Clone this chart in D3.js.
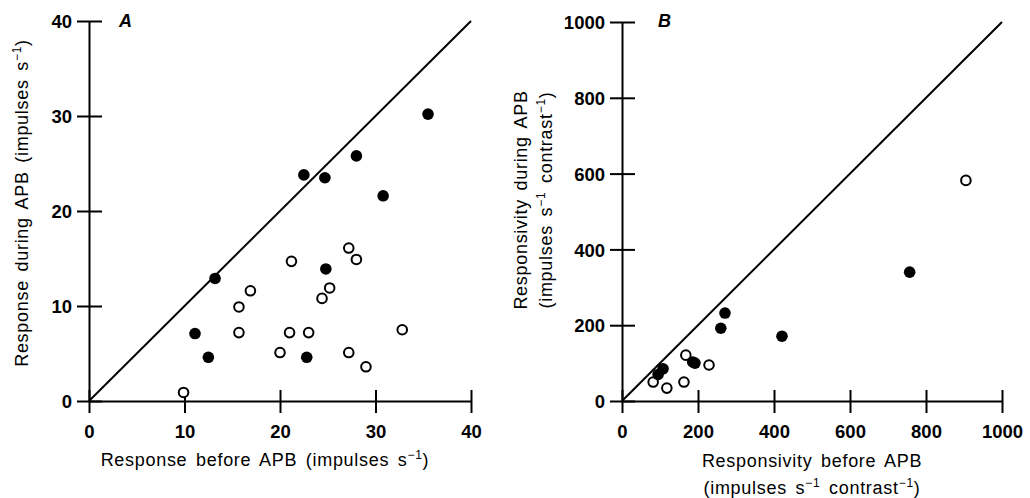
<!DOCTYPE html>
<html><head><meta charset="utf-8">
<script src="https://cdn.jsdelivr.net/npm/d3@7"></script>
<style>
body{margin:0;background:#fff;}
text{font-family:"Liberation Sans",Arial,Helvetica,sans-serif;fill:#000;}
.tick text{font-weight:bold;font-size:18.5px;}
.title{font-size:18px;letter-spacing:0.7px;word-spacing:3px;}
</style>
</head><body>
<svg id="c" width="1030" height="498"></svg>
<script>
// Panel A data
const aTicks = [0,10,20,30,40];
const aFilledX = [35.5,28.0,22.5,24.7,30.8,24.8,13.2,11.1,12.5,22.8];
const aFilledY = [30.2,25.8,23.8,23.5,21.6,13.9,12.9,7.1,4.6,4.6];
const aOpenX = [9.9,15.7,16.9,15.7,21.2,21.0,23.0,20.0,27.2,28.0,25.2,24.4,27.2,29.0,32.8];
const aOpenY = [0.9,9.9,11.6,7.2,14.7,7.2,7.2,5.1,16.1,14.9,11.9,10.8,5.1,3.6,7.5];
// Panel B data
const bTicks = [0,200,400,600,800,1000];
const bFilledX = [271,260,421,757,186,192,95,108];
const bFilledY = [232,192,171,340,103,100,70,85];
const bOpenX = [905,82,118,163,168,229];
const bOpenY = [582,50,34,50,121,95];

const svg = d3.select("#c");

function panel(o){
  const x = d3.scaleLinear().domain(o.domain).range(o.xr);
  const y = d3.scaleLinear().domain(o.domain).range(o.yr);
  const g = svg.append("g");
  const fmt = d3.format("d");
  // x axis
  const gx = g.append("g").attr("transform",`translate(0,${o.yr[0]})`)
    .call(d3.axisBottom(x).tickValues(o.ticks).tickFormat(fmt).tickSizeOuter(0).tickSize(0).tickPadding(0));
  gx.selectAll(".tick line").attr("y1",-11).attr("y2",12);
  gx.selectAll(".tick text").attr("y",37).attr("dy",0);
  // y axis
  const gy = g.append("g").attr("transform",`translate(${o.xr[0]},0)`)
    .call(d3.axisLeft(y).tickValues(o.ticks).tickFormat(fmt).tickSizeOuter(0).tickSize(0).tickPadding(0));
  gy.selectAll(".tick line").attr("x1",-12).attr("x2",13);
  gy.selectAll(".tick text").attr("x",-17).attr("dy","0.36em");
  g.selectAll(".tick text").attr("fill","#000");
  g.selectAll(".domain, .tick line").attr("stroke","#000").attr("stroke-width",2);
  g.selectAll("g").attr("font-family",null).attr("font-size",null);
  // diagonal
  g.append("line").attr("x1",x(o.domain[0])).attr("y1",y(o.domain[0]))
    .attr("x2",x(o.domain[1])).attr("y2",y(o.domain[1]))
    .attr("stroke","#000").attr("stroke-width",2);
  // points
  o.openX.forEach((v,i)=>{
    g.append("circle").attr("cx",x(v)).attr("cy",y(o.openY[i])).attr("r",4.8)
      .attr("fill","#fff").attr("stroke","#000").attr("stroke-width",2);
  });
  o.filledX.forEach((v,i)=>{
    g.append("circle").attr("cx",x(v)).attr("cy",y(o.filledY[i])).attr("r",5.8).attr("fill","#000");
  });
  // label
  g.append("text").attr("x",o.lab[0]).attr("y",o.lab[1]).text(o.label)
    .style("font-style","italic").style("font-weight","bold").style("font-size","18px");
  return {x,y,g};
}

panel({domain:[0,40],xr:[89,471],yr:[401,21],ticks:aTicks,
  filledX:aFilledX,filledY:aFilledY,openX:aOpenX,openY:aOpenY,label:"A",lab:[119,27]});
panel({domain:[0,1000],xr:[622,1002],yr:[401,22],ticks:bTicks,
  filledX:bFilledX,filledY:bFilledY,openX:bOpenX,openY:bOpenY,label:"B",lab:[658,27]});

function sup(t, s){ t.append("tspan").attr("baseline-shift","super").style("font-size","12px").text(s); }

// A x title
let t = svg.append("text").attr("class","title").attr("x",265).attr("y",466).attr("text-anchor","middle");
t.append("tspan").text("Response before APB (impulses s");
sup(t,"−1"); t.append("tspan").text(")");
// A y title
t = svg.append("text").attr("class","title").attr("transform","translate(28,203) rotate(-90)").attr("text-anchor","middle");
t.append("tspan").text("Response during APB (impulses s");
sup(t,"−1"); t.append("tspan").text(")");
// B x title
svg.append("text").attr("class","title").attr("x",812).attr("y",467).attr("text-anchor","middle").text("Responsivity before APB");
t = svg.append("text").attr("class","title").attr("x",812).attr("y",494).attr("text-anchor","middle");
t.append("tspan").text("(impulses s"); sup(t,"−1"); t.append("tspan").text(" contrast"); sup(t,"−1"); t.append("tspan").text(")");
// B y title
svg.append("text").attr("class","title").attr("transform","translate(527,200) rotate(-90)").attr("text-anchor","middle").text("Responsivity during APB");
t = svg.append("text").attr("class","title").attr("transform","translate(552,200) rotate(-90)").attr("text-anchor","middle");
t.append("tspan").text("(impulses s"); sup(t,"−1"); t.append("tspan").text(" contrast"); sup(t,"−1"); t.append("tspan").text(")");
</script>
</body></html>
